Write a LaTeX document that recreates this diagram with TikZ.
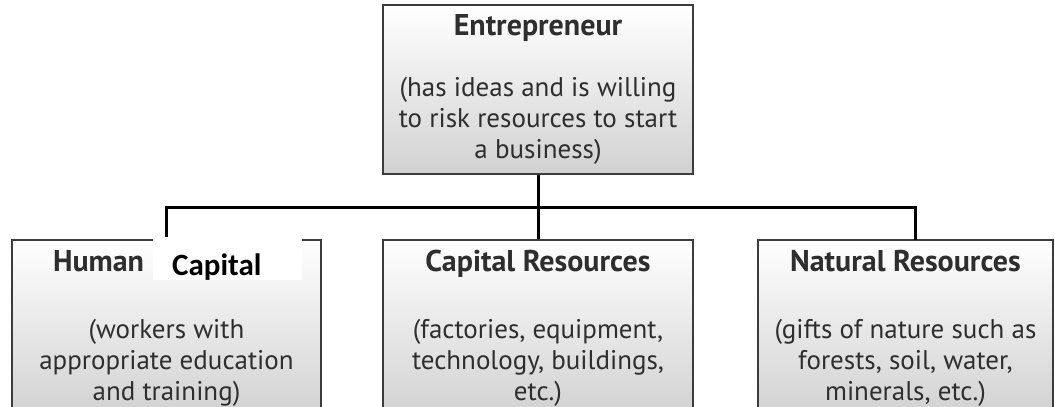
\documentclass[tikz,border=0pt]{standalone}
\usepackage{fontspec}
\setmainfont{PT Sans}
\newfontfamily\patchfont{Carlito}
\definecolor{boxline}{HTML}{3C3C3C}
\definecolor{boxtext}{HTML}{2E2E2E}
\newcommand{\boxtitle}[1]{{\fontsize{30}{31}\selectfont\bfseries #1}}
\tikzset{
  resbox/.style={draw=boxline, line width=2pt, top color=white, bottom color=black!18,
    minimum height=176pt, inner sep=0pt, align=center,
    text=boxtext, font=\fontsize{27}{31}\selectfont},
  link/.style={line width=3pt, black}
}
\begin{document}
\begin{tikzpicture}[x=1pt, y=-1pt]
  \useasboundingbox (0,0) rectangle (1055,407);
  \clip (0,0) rectangle (1055,407);

  % top box
  \node[resbox, minimum width=310pt, minimum height=169pt] (entre) at (538,89.5)
    {\boxtitle{Entrepreneur}\\[30pt](has ideas and is willing\\to risk resources to start\\a business)};

  % bottom boxes
  \node[resbox, minimum width=309pt] (human) at (166.5,328)
    {\makebox[227pt][l]{\boxtitle{Human}}\\[36pt](workers with\\appropriate education\\and training)};
  \node[resbox, minimum width=310pt] (capres) at (538,328)
    {\boxtitle{Capital Resources}\\[36pt](factories, equipment,\\technology, buildings,\\etc.)};
  \node[resbox, minimum width=295pt] (natres) at (905.5,328)
    {\boxtitle{Natural Resources}\\[36pt](gifts of nature such as\\forests, soil, water,\\minerals, etc.)};

  % connectors
  \coordinate (bus) at (540,207);
  \coordinate (natin) at (915,240);
  \draw[link] (entre.south) -- (capres.north);
  \draw[link] (human.north) |- (bus) -| (natin);

  % white patch over the title
  \fill[white] (153,237) rectangle (302,280);
  \node[anchor=base west, inner sep=0pt, font=\patchfont\bfseries\fontsize{31}{34}\selectfont] (capital) at (172,275) {Capital};
\end{tikzpicture}
\end{document}
